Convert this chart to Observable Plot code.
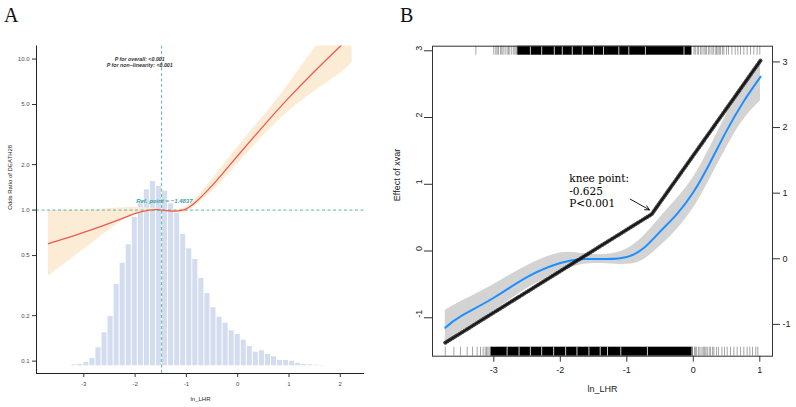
<!DOCTYPE html>
<html><head><meta charset="utf-8">
<script src="https://cdn.jsdelivr.net/npm/d3@7"></script>
<script src="https://cdn.jsdelivr.net/npm/@observablehq/plot@0.6"></script>
<style>
html,body{margin:0;padding:0;background:#fff;}
#wrap{position:relative;width:796px;height:407px;overflow:hidden;font-family:"Liberation Sans",Arial,sans-serif;}
#wrap svg{position:absolute;left:0;top:0;overflow:visible;background:transparent;}
.lab{position:absolute;font-family:"Liberation Serif",serif;font-size:20px;line-height:20px;color:#111;}
</style></head><body>
<div id="wrap"><div class="lab" style="left:4px;top:5px">A</div><div class="lab" style="left:400px;top:5px">B</div></div>
<script>
// ---------------- Panel A data ----------------
const histCenters = [-3.186,-3.068,-2.95,-2.832,-2.714,-2.596,-2.478,-2.36,-2.242,-2.124,-2.006,-1.888,-1.77,-1.652,-1.534,-1.416,-1.298,-1.18,-1.062,-0.944,-0.826,-0.708,-0.59,-0.472,-0.354,-0.236,-0.118,0,0.118,0.236,0.354,0.472,0.59,0.708,0.826,0.944,1.062,1.18,1.298,1.416,1.534,1.652];
const histCounts = [8,15,33,73,180,330,493,813,1026,1210,1483,1620,1760,1843,1793,1746,1620,1526,1313,1170,1063,873,723,580,486,426,350,313,256,193,136,150,113,90,53,53,46,26,13,10,6,3];
const histBinWidth = 0.118;

const aX  = [-3.69,-3.2,-2.8,-2.4,-2.1,-1.85,-1.6,-1.48,-1.3,-1.15,-1.0,-0.8,-0.6,-0.4,-0.2,0,0.5,1.0,1.5,2.0,2.23];
const aOR = [0.60,0.676,0.75,0.841,0.923,0.982,1.007,1.0,0.986,0.989,1.019,1.143,1.334,1.585,1.905,2.29,3.60,5.55,8.30,12.16,14.45];
const aLo = [0.365,0.488,0.618,0.783,0.905,0.962,0.99,1.0,0.97,0.955,0.973,1.079,1.23,1.429,1.698,2.018,3.10,4.52,6.1,8.04,9.4];
const aHi = [0.99,1.0,1.01,1.03,1.04,1.035,1.02,1.0,0.995,1.012,1.054,1.21,1.445,1.758,2.138,2.6,4.18,6.85,11.75,18.4,22.9];
const aXTicks = [-3,-2,-1,0,1,2];
const aYTicks = [0.1,0.2,0.5,1,2,5,10];
const refX = -1.4837, refOR = 1;
const pTexts = ["P for overall: <0.001","P for non\u2212linearity: <0.001"];
const pTextX = -1.91, pTextY = [10.0, 9.12];
const refLabel = "Ref. point = \u22121.4837";
const refLabelX = -1.43, refLabelY = 1.155;

// ---------------- Panel B data ----------------
const bX   = [-3.73,-3.5,-3.0,-2.5,-2.0,-1.65,-1.3,-1.0,-0.75,-0.5,-0.25,0,0.25,0.5,0.75,1.01];
const bFit = [-1.15,-0.98,-0.70,-0.39,-0.18,-0.12,-0.12,-0.09,0.04,0.29,0.55,0.88,1.32,1.80,2.23,2.61];
const bLo  = [-1.41,-1.21,-0.90,-0.56,-0.32,-0.20,-0.19,-0.20,-0.13,0.07,0.32,0.64,1.08,1.55,1.96,2.25];
const bHi  = [-0.89,-0.76,-0.50,-0.22,-0.03,-0.04,-0.05,0.03,0.22,0.50,0.78,1.10,1.55,2.05,2.50,2.80];
const segX = [-3.73,-0.625,1.01];
const segY = [-1.28,0.68,3.02];
const bXTicks = [-3,-2,-1,0,1];
const bLeftTicks = [-1,0,1,2,3];
const bRightTicks = [-1,0,1,2,3];
const kneeLines = ["knee point:","-0.625","P<0.001"];
const kneeTextX = -1.865, kneeTextY = [1.215,1.024,0.834];
const arrowFrom = [-0.95,0.91], arrowTo = [-0.66,0.745];

const topRugSparse = [-3.27,-3.0,-2.97,-2.95,-2.93,-2.9,-2.88,-2.86,-2.83,-2.8,-2.78,-2.76,-2.73,-2.7,-2.68,-2.66,
  0.01,0.03,0.06,0.08,0.11,0.13,0.16,0.18,0.2,0.23,0.25,0.28,0.3,0.33,0.35,0.37,0.39,0.41,0.44,0.46,0.5,0.53,0.58,0.63,0.67,0.71,0.76,0.81,0.86,0.91,0.96,1.0];
const topRugDense = [[-2.64,-0.02]];
const topRugGaps = [-2.45,-2.28,-2.09,-1.97,-1.82,-1.67,-1.5,-1.35,-1.12,-0.97,-0.72,-0.14];
const botRugSparse = [-3.73,-3.6,-3.5,-3.4,-3.32,-3.25,-3.2,-3.16,-3.13,-3.11,-3.09,-3.07,-3.05,
  0.02,0.03,0.05,0.08,0.1,0.13,0.15,0.17,0.19,0.21,0.24,0.26,0.29,0.31,0.35,0.38,0.43,0.47,0.51,0.56,0.61,0.66,0.71,0.76,0.81,0.85,0.89,0.94,0.97];
const botRugDense = [[-3.04,0.0]];
const botRugGaps = [-2.8,-2.62,-2.45,-2.28,-2.1,-1.92,-1.75,-1.57,-1.4,-1.29,-1.09,-0.69,-0.02];

// ---------------- layout ----------------
const W = 796, H = 407;
const wrap = document.getElementById("wrap");
const teal = "#35a39b";
const aXDomain = [-3.922, 2.472];
const aYDomain = [0.0828, 12.2];
const mA = {marginLeft: 36, marginRight: 432, marginTop: 45.5, marginBottom: 34};
const aPlotW = W - mA.marginLeft - mA.marginRight;

const histData = histCenters.map((c, i) => ({x1: c - histBinWidth / 2, x2: c + histBinWidth / 2, n: histCounts[i]}));
const aRows = aX.map((x, i) => ({x, or: aOR[i], lo: aLo[i], hi: aHi[i]}));

const svgHist = Plot.plot({
  width: W, height: H, marginLeft: 36, marginRight: 432, marginTop: 45.5, marginBottom: 41.7,
  style: {background: "transparent"},
  x: {domain: aXDomain, axis: null},
  y: {domain: [0, 3198], axis: null},
  marks: [Plot.rectY(histData, {x1: "x1", x2: "x2", y: "n", fill: "#d3ddef", insetLeft: 0.5, insetRight: 0.5})]
});
wrap.appendChild(svgHist);

const svgA = Plot.plot({
  width: W, height: H, ...mA,
  style: {background: "transparent", fontFamily: "Liberation Sans, Arial, sans-serif"},
  x: {domain: aXDomain, axis: null},
  y: {type: "log", domain: aYDomain, axis: null},
  marks: [
    Plot.areaY(aRows, {x: "x", y1: "lo", y2: "hi", fill: "#fdecd5", curve: "natural", clip: true}),
    Plot.ruleY([refOR], {stroke: teal, strokeDasharray: "3,2.5", strokeWidth: 0.8}),
    Plot.ruleX([refX], {stroke: teal, strokeDasharray: "3,2.5", strokeWidth: 0.8}),
    Plot.lineY(aRows, {x: "x", y: "or", stroke: "#ef5a4f", strokeWidth: 1.3, curve: "natural", clip: true}),
    Plot.ruleX([aXDomain[0]], {stroke: "#222", strokeWidth: 1}),
    Plot.ruleY([aYDomain[0]], {stroke: "#222", strokeWidth: 1}),
    Plot.tickY(aYTicks, {y: d => d, stroke: "#333", insetLeft: -4, insetRight: aPlotW}),
    Plot.text(aYTicks, {y: d => d, text: d => d3.format(".1f")(d), frameAnchor: "left", dx: -7, textAnchor: "end", fontSize: 6, fill: "#4d4d4d"}),
    Plot.axisX(aXTicks, {tickFormat: d => String(d), tickSize: 4, tickPadding: 4, fontSize: 6, stroke: "#333", fill: "#4d4d4d", label: null}),
    Plot.text(["Odds Ratio of DEATH28"], {text: d => d, frameAnchor: "left", dx: -26, rotate: -90, fontSize: 6, fill: "#222"}),
    Plot.text(["ln_LHR"], {text: d => d, frameAnchor: "bottom", dy: 27, fontSize: 6, fill: "#222"}),
    Plot.text(pTexts, {text: d => d, x: () => pTextX, y: (d, i) => pTextY[i], fontSize: 5.3, fontStyle: "italic", fontWeight: "bold", fill: "#333"}),
    Plot.text([refLabel], {text: d => d, x: () => refLabelX, y: () => refLabelY, fontSize: 6, fontStyle: "italic", fontWeight: "bold", fill: teal})
  ]
});
wrap.appendChild(svgA);

// ---------------- Panel B ----------------
const bXDomain = [-3.922, 1.191];
const bYLeftDomain = [-1.576, 3.069];
const bYRightDomain = [-1.485, 3.24];
const mB = {marginLeft: 432, marginRight: 24, marginTop: 45.7, marginBottom: 51.3};
const bPlotH = H - mB.marginTop - mB.marginBottom;
const rugLen = 9;
const bRows = bX.map((x, i) => ({x, fit: bFit[i], lo: bLo[i], hi: bHi[i]}));
const segRows = segX.map((x, i) => ({x, y: segY[i]}));

const svgB1 = Plot.plot({
  width: W, height: H, ...mB,
  style: {background: "transparent", fontFamily: "Liberation Sans, Arial, sans-serif"},
  x: {domain: bXDomain},
  y: {domain: bYLeftDomain},
  marks: [
    Plot.areaY(bRows, {x: "x", y1: "lo", y2: "hi", fill: "#d3d3d3", curve: "natural"}),
    Plot.ruleX(topRugSparse, {x: d => d, stroke: "#000", strokeOpacity: 0.45, strokeWidth: 0.8, insetBottom: bPlotH - rugLen}),
    Plot.rect(topRugDense, {x1: d => d[0], x2: d => d[1], fill: "#000", insetBottom: bPlotH - rugLen}),
    Plot.ruleX(topRugGaps, {x: d => d, stroke: "#fff", strokeWidth: 0.8, insetBottom: bPlotH - rugLen}),
    Plot.ruleX(botRugSparse, {x: d => d, stroke: "#000", strokeOpacity: 0.45, strokeWidth: 0.8, insetTop: bPlotH - rugLen}),
    Plot.rect(botRugDense, {x1: d => d[0], x2: d => d[1], fill: "#000", insetTop: bPlotH - rugLen}),
    Plot.ruleX(botRugGaps, {x: d => d, stroke: "#fff", strokeWidth: 0.8, insetTop: bPlotH - rugLen}),
    Plot.lineY(bRows, {x: "x", y: "fit", stroke: "#1e8fff", strokeWidth: 2, curve: "natural"}),
    Plot.frame({stroke: "#333", strokeWidth: 1}),
    Plot.axisY(bLeftTicks, {anchor: "left", tickSize: 8, tickFormat: () => "", stroke: "#333", label: null}),
    Plot.text(bLeftTicks, {y: d => d, text: d => String(d), frameAnchor: "left", dx: -13, rotate: -90, fontSize: 9, fill: "#222"}),
    Plot.axisX(bXTicks, {tickSize: 6, tickPadding: 4, fontSize: 9, tickFormat: d => String(d), stroke: "#333", fill: "#222", label: null}),
    Plot.text(["Effect of xvar"], {text: d => d, frameAnchor: "left", dx: -35, rotate: -90, fontSize: 9, fill: "#222"}),
    Plot.text(["ln_LHR"], {text: d => d, frameAnchor: "bottom", dy: 36, fontSize: 9, fill: "#222"})
  ]
});
wrap.appendChild(svgB1);

const svgB2 = Plot.plot({
  width: W, height: H, ...mB,
  style: {background: "transparent", fontFamily: "Liberation Sans, Arial, sans-serif"},
  x: {domain: bXDomain, axis: null},
  y: {domain: bYRightDomain, axis: null},
  marks: [
    Plot.line(segRows, {x: "x", y: "y", stroke: "#000", strokeWidth: 1.4}),
    Plot.line(segRows, {x: "x", y: "y", stroke: "#111", strokeWidth: 4, strokeOpacity: 0.8, strokeDasharray: "0.7,2.1"}),
    Plot.arrow([0], {x1: () => arrowFrom[0], y1: () => arrowFrom[1], x2: () => arrowTo[0], y2: () => arrowTo[1], stroke: "#000", strokeWidth: 0.9, headLength: 8, headAngle: 55}),
    Plot.text(kneeLines, {text: d => d, x: () => kneeTextX, y: (d, i) => kneeTextY[i], textAnchor: "start", fontSize: 10.5, fontFamily: "DejaVu Serif, serif", fill: "#000"}),
    Plot.axisY(bRightTicks, {anchor: "right", tickSize: 7, tickPadding: 3, fontSize: 9, tickFormat: d => String(d), stroke: "#333", fill: "#222", label: null})
  ]
});
wrap.appendChild(svgB2);
</script>
</body></html>
